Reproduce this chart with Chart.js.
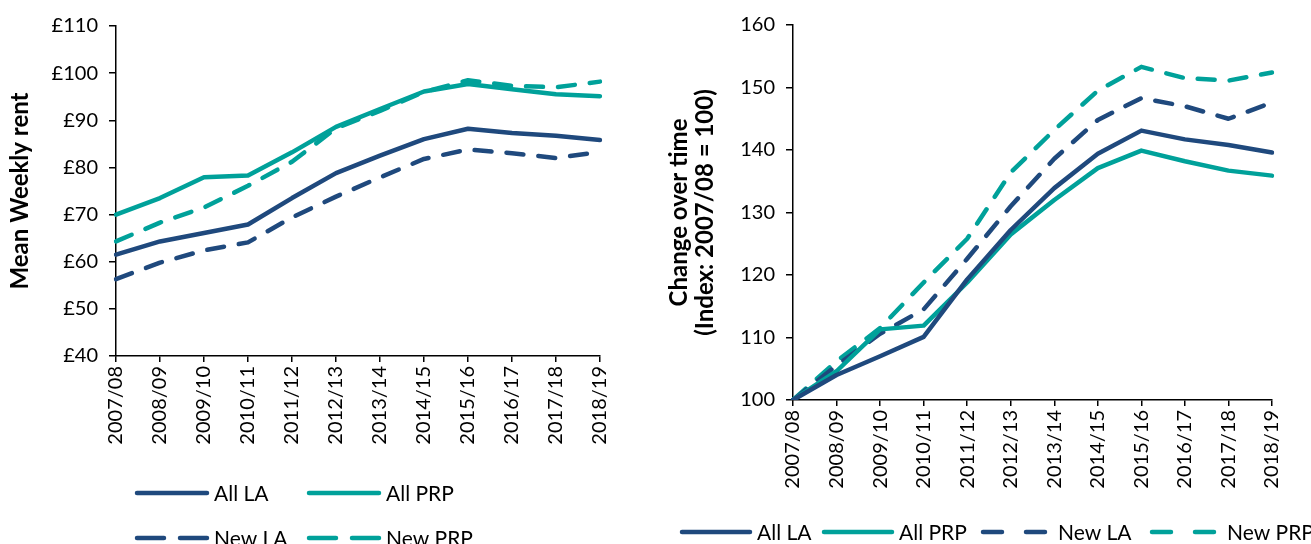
<!DOCTYPE html>
<html>
<head>
<meta charset="utf-8">
<script src="https://cdn.jsdelivr.net/npm/chart.js@4/dist/chart.umd.min.js"></script>
<style>
  html, body { margin: 0; padding: 0; background: #fff; }
  body { width: 1311px; height: 544px; position: relative; overflow: hidden; }
  #wrapL { position: absolute; left: 0; top: 0; width: 640px; height: 544px; }
  #wrapR { position: absolute; left: 650px; top: 0; width: 661px; height: 544px; }
</style>
</head>
<body>
<div id="wrapL"><canvas id="left"></canvas></div>
<div id="wrapR"><canvas id="right"></canvas></div>
<script>
// ---------- data ----------
const years = ["2007/08","2008/09","2009/10","2010/11","2011/12","2012/13","2013/14","2014/15","2015/16","2016/17","2017/18","2018/19"];

// Mean weekly rent (£)
const rentAllLA  = [61.5, 64.3, 66.1, 67.9, 73.5, 78.8, 82.5, 86.0, 88.2, 87.3, 86.7, 85.8];
const rentAllPRP = [70.0, 73.5, 77.9, 78.3, 83.2, 88.6, 92.4, 96.1, 97.7, 96.6, 95.5, 95.1];
const rentNewLA  = [56.3, 59.8, 62.4, 64.1, 69.4, 73.8, 77.9, 81.8, 83.8, 83.0, 82.0, 83.3];
const rentNewPRP = [64.3, 68.3, 71.5, 76.1, 81.2, 88.3, 92.0, 96.0, 98.5, 97.3, 97.0, 98.2];

// Index (2007/08 = 100)
const idxAllLA  = [100, 104.0, 107.0, 110.1, 119.3, 127.2, 133.9, 139.4, 143.1, 141.7, 140.8, 139.6];
const idxAllPRP = [100, 104.6, 111.3, 111.9, 118.8, 126.5, 132.0, 137.1, 139.9, 138.2, 136.7, 135.9];
const idxNewLA  = [100, 105.5, 110.6, 114.5, 122.6, 131.0, 138.6, 144.8, 148.3, 147.0, 145.0, 147.6];
const idxNewPRP = [100, 106.2, 111.5, 118.8, 125.8, 136.4, 143.2, 149.5, 153.3, 151.5, 151.1, 152.4];

const rentTicks = ["£40","£50","£60","£70","£80","£90","£100","£110"];
const seriesNames = ["All LA", "All PRP", "New LA", "New PRP"];

// ---------- styles ----------
const NAVY = '#1F497D';
const TEAL = '#00A19A';
const FONT = 'Lato, "Open Sans", "Liberation Sans", sans-serif';
const DASH = [17, 15];

function mkDatasets(a, b, c, d) {
  const base = { fill: false, tension: 0, pointRadius: 0, borderWidth: 4.5, borderJoinStyle: 'round' };
  return [
    Object.assign({}, base, { label: seriesNames[0], data: a, borderColor: NAVY, borderCapStyle: 'round' }),
    Object.assign({}, base, { label: seriesNames[1], data: b, borderColor: TEAL, borderCapStyle: 'round' }),
    Object.assign({}, base, { label: seriesNames[2], data: c, borderColor: NAVY, borderDash: DASH, borderCapStyle: 'round' }),
    Object.assign({}, base, { label: seriesNames[3], data: d, borderColor: TEAL, borderDash: DASH, borderCapStyle: 'round' })
  ];
}

// custom legend drawn from the chart's own datasets
const lineLegend = {
  id: 'lineLegend',
  afterDraw(chart, args, opts) {
    const ctx = chart.ctx;
    ctx.save();
    ctx.font = opts.font;
    ctx.textBaseline = 'middle';
    ctx.textAlign = 'left';
    chart.data.datasets.forEach((ds, i) => {
      const pos = opts.items[i];
      ctx.beginPath();
      ctx.strokeStyle = ds.borderColor;
      ctx.lineWidth = ds.borderWidth;
      ctx.lineCap = 'round';
      ctx.setLineDash(ds.borderDash ? opts.dash : []);
      ctx.moveTo(pos.x, pos.y);
      ctx.lineTo(pos.x + opts.lineLen, pos.y);
      ctx.stroke();
      ctx.setLineDash([]);
      ctx.fillStyle = '#000';
      ctx.fillText(ds.label, pos.x + opts.lineLen + opts.gap, pos.y + 1);
    });
    ctx.restore();
  }
};

function commonScales(yOpts, xHeight, yWidth, yTitle) {
  return {
    x: {
      type: 'category',
      offset: false,
      grid: { display: true, drawOnChartArea: false, drawTicks: true, tickLength: 6, color: '#000', lineWidth: 1.5 },
      border: { display: true, color: '#000', width: 1.5 },
      ticks: { color: '#000', font: { family: FONT, size: 20 }, maxRotation: 90, minRotation: 90, autoSkip: false, padding: 4 },
      afterFit(s) { s.height = xHeight; }
    },
    y: Object.assign({
      grid: { display: true, drawOnChartArea: false, drawTicks: true, tickLength: 7, color: '#000', lineWidth: 1.5 },
      border: { display: true, color: '#000', width: 1.5 },
      title: { display: true, text: yTitle, color: '#000', font: { family: FONT, size: 24, weight: 'bold', lineHeight: 1.05 }, padding: { top: 0, bottom: 0 } },
      afterFit(s) { s.width = yWidth; }
    }, yOpts)
  };
}

Chart.defaults.font.family = FONT;
Chart.defaults.color = '#000';

new Chart(document.getElementById('left'), {
  type: 'line',
  data: { labels: years, datasets: mkDatasets(rentAllLA, rentAllPRP, rentNewLA, rentNewPRP) },
  options: {
    responsive: true, maintainAspectRatio: false, animation: false,
    layout: { padding: { top: 26, right: 40, bottom: 0, left: 8 } },
    plugins: {
      legend: { display: false }, tooltip: { enabled: false },
      lineLegend: {
        font: '21px ' + FONT, lineLen: 70, gap: 7, dash: [27, 16],
        items: [ {x: 137, y: 493}, {x: 309, y: 493}, {x: 137, y: 538}, {x: 309, y: 538} ]
      }
    },
    scales: commonScales({
      min: 40, max: 110,
      ticks: { stepSize: 10, color: '#000', font: { family: FONT, size: 20 }, padding: 11,
        callback: (v) => rentTicks[(v - 40) / 10] }
    }, 188, 108, 'Mean Weekly rent')
  },
  plugins: [lineLegend]
});

new Chart(document.getElementById('right'), {
  type: 'line',
  data: { labels: years, datasets: mkDatasets(idxAllLA, idxAllPRP, idxNewLA, idxNewPRP) },
  options: {
    responsive: true, maintainAspectRatio: false, animation: false,
    layout: { padding: { top: 25, right: 39, bottom: 0, left: 17 } },
    plugins: {
      legend: { display: false }, tooltip: { enabled: false },
      lineLegend: {
        font: '21px ' + FONT, lineLen: 68, gap: 7, dash: [19, 24],
        items: [ {x: 32, y: 532}, {x: 174, y: 532}, {x: 333, y: 532}, {x: 502, y: 532} ]
      }
    },
    scales: commonScales({
      min: 100, max: 160,
      ticks: { stepSize: 10, color: '#000', font: { family: FONT, size: 20 }, padding: 11 }
    }, 144, 126, ['Change over time', '(Index: 2007/08 = 100)'])
  },
  plugins: [lineLegend]
});
</script>
</body>
</html>
